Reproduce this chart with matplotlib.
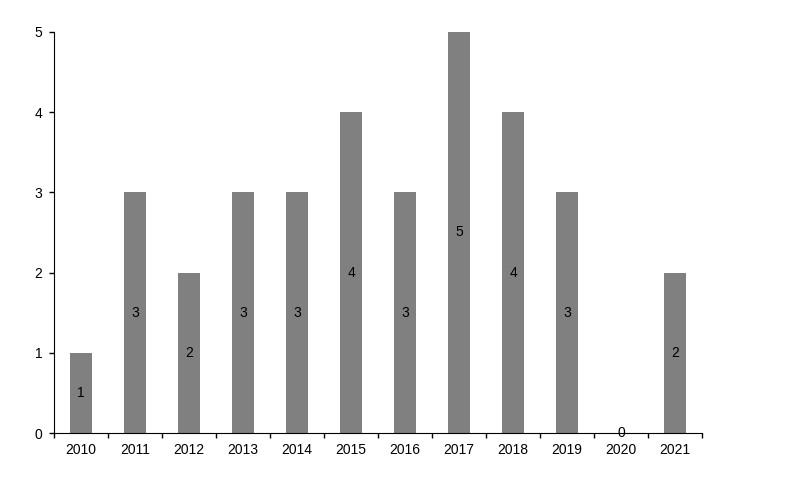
import numpy as np
import matplotlib.pyplot as plt

years = ['2010', '2011', '2012', '2013', '2014', '2015', '2016', '2017', '2018', '2019', '2020', '2021']
counts = [1, 3, 2, 3, 3, 4, 3, 5, 4, 3, 0, 2]

plt.rcParams['font.family'] = ['Liberation Sans', 'DejaVu Sans']

fig = plt.figure(figsize=(7.98, 4.94), dpi=100)
ax = fig.add_axes([54 / 798, 61 / 494, 648 / 798, 401 / 494])

x = np.arange(len(years))
bars = ax.bar(x, counts, width=0.41, color='#808080', zorder=2)

# 数据标签放在柱子中间
for xi, v in zip(x, counts):
    ax.text(xi, v / 2, str(v), ha='center', va='center', fontsize=10, color='black')

ax.set_xlim(-0.5, len(years) - 0.5)
ax.set_ylim(0, 5)
ax.set_yticks(range(6))
ax.set_yticklabels([str(i) for i in range(6)], fontsize=10)

# 刻度线在类别边界，标签在中间
ax.set_xticks(np.arange(-0.5, len(years), 1))
ax.set_xticklabels([])
ax.set_xticks(x, minor=True)
ax.set_xticklabels(years, minor=True, fontsize=10)
ax.tick_params(axis='x', which='major', direction='out', length=3.5, width=1)
ax.tick_params(axis='x', which='minor', length=0, pad=7)
ax.tick_params(axis='y', direction='out', length=3.5, width=1, pad=5)

ax.spines['top'].set_visible(False)
ax.spines['right'].set_visible(False)

fig.savefig('out.png', dpi=100)
